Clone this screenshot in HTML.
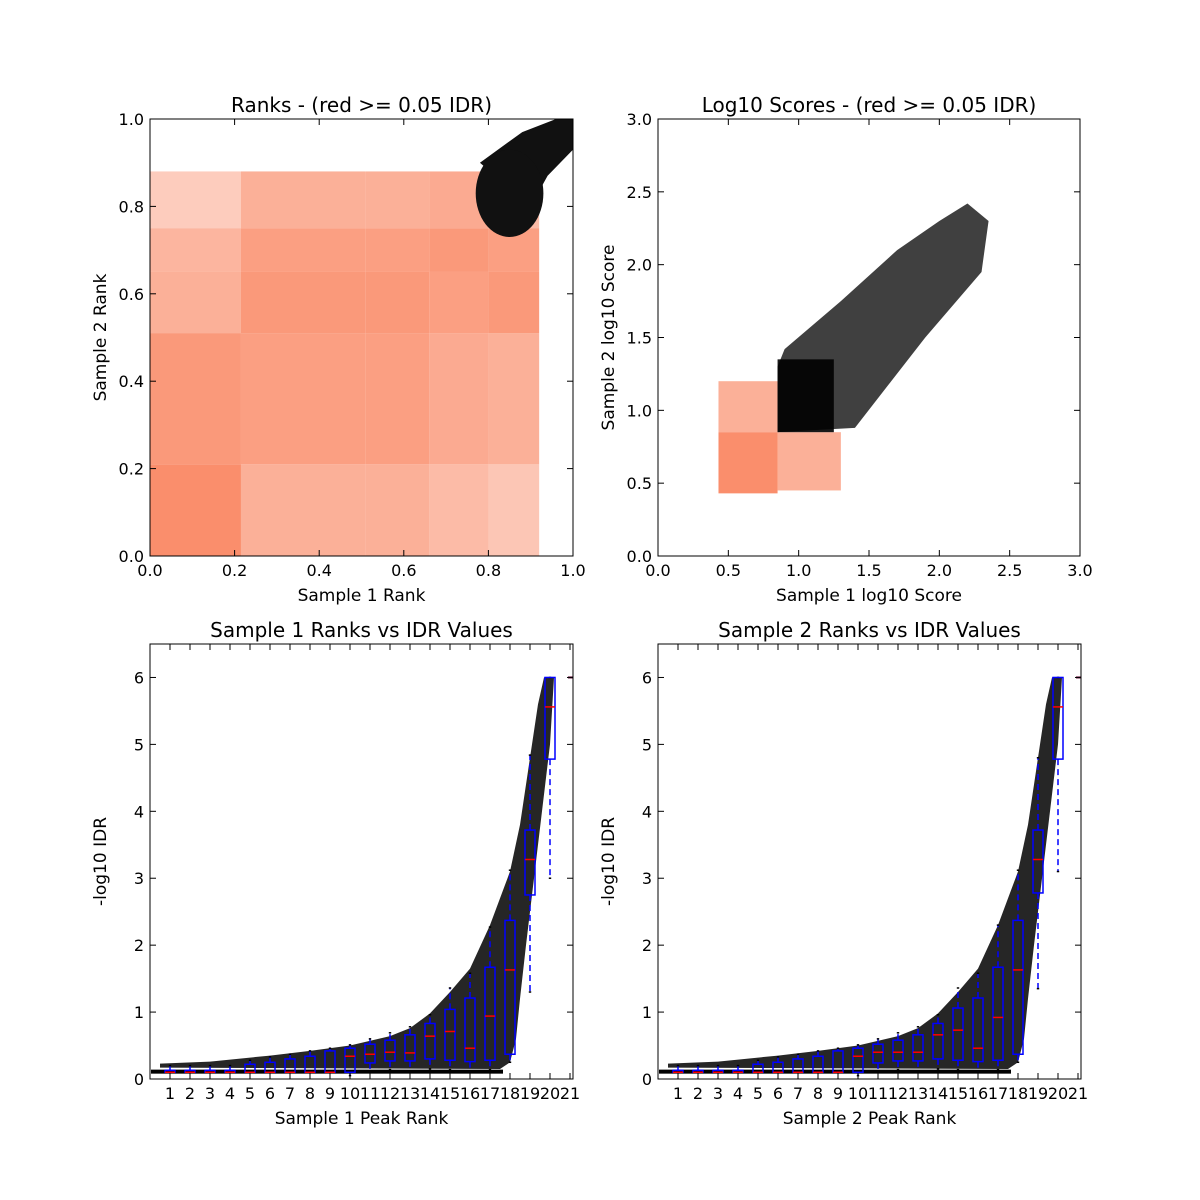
<!DOCTYPE html>
<html><head><meta charset="utf-8">
<style>
html,body{margin:0;padding:0;background:#fff;}
svg{display:block;font-family:"DejaVu Sans","Liberation Sans",sans-serif;}
</style></head>
<body>
<svg id="fig" width="1200" height="1200" viewBox="0 0 1200 1200" xmlns="http://www.w3.org/2000/svg"></svg>
<script>
// ---------- data ----------
const rankColEdges = [0, 0.215, 0.51, 0.66, 0.8, 0.92];
const rankRowEdges = [0, 0.21, 0.51, 0.65, 0.75, 0.88];
const rankDensity = [
  [1.0, 0.7, 0.7, 0.6, 0.5],
  [0.9, 0.85, 0.85, 0.75, 0.7],
  [0.7, 0.9, 0.9, 0.85, 0.9],
  [0.65, 0.85, 0.85, 0.9, 0.85],
  [0.45, 0.7, 0.7, 0.75, 0.6]
];
const rankBlobCenter = [0.85, 0.83];
const rankBlobRadius = [0.08, 0.1];
const rankTailX = [0.78, 0.88, 0.96, 1.0, 1.0, 0.94, 0.9];
const rankTailY = [0.9, 0.97, 1.0, 1.0, 0.93, 0.87, 0.8];
const redCoreBox = [0.43, 0.43, 0.85, 0.85];
const redExtBoxes = [[0.43, 0.85, 0.85, 1.2], [0.85, 0.45, 1.3, 0.85]];
const blackCoreBox = [0.85, 0.85, 1.25, 1.35];
const blackBandX = [0.85, 0.9, 1.3, 1.7, 2.0, 2.2, 2.35, 2.3, 1.9, 1.4];
const blackBandY = [1.3, 1.42, 1.75, 2.1, 2.3, 2.42, 2.3, 1.95, 1.5, 0.88];
const bins = [1,2,3,4,5,6,7,8,9,10,11,12,13,14,15,16,17,18,19,20];
const s1Low  = [0.1,0.1,0.1,0.1,0.1,0.1,0.1,0.1,0.1,0.05,0.12,0.14,0.12,0.15,0.14,0.1,0.14,0.25,1.3,3.0];
const s1Q1   = [0.1,0.1,0.1,0.1,0.1,0.1,0.1,0.1,0.1,0.1,0.24,0.27,0.27,0.3,0.28,0.26,0.28,0.37,2.75,4.78];
const s1Med  = [0.1,0.1,0.1,0.1,0.1,0.1,0.1,0.1,0.1,0.34,0.37,0.4,0.39,0.64,0.71,0.46,0.94,1.63,3.28,5.56];
const s1Q3   = [0.13,0.13,0.13,0.13,0.22,0.25,0.3,0.34,0.42,0.46,0.52,0.58,0.66,0.83,1.04,1.21,1.67,2.37,3.72,6.0];
const s1High = [0.2,0.2,0.2,0.2,0.28,0.33,0.37,0.42,0.46,0.51,0.6,0.69,0.78,0.96,1.36,1.58,2.27,3.12,4.84,6.0];
const s2Low  = [0.1,0.1,0.1,0.1,0.1,0.1,0.1,0.1,0.1,0.05,0.12,0.14,0.12,0.15,0.14,0.1,0.14,0.25,1.35,3.1];
const s2Q1   = [0.1,0.1,0.1,0.1,0.1,0.1,0.1,0.1,0.1,0.1,0.24,0.27,0.27,0.3,0.28,0.26,0.28,0.37,2.78,4.78];
const s2Med  = [0.1,0.1,0.1,0.1,0.1,0.1,0.1,0.1,0.1,0.34,0.4,0.4,0.4,0.66,0.73,0.46,0.92,1.63,3.28,5.56];
const s2Q3   = [0.13,0.13,0.13,0.13,0.22,0.25,0.3,0.34,0.42,0.46,0.52,0.58,0.66,0.83,1.06,1.21,1.67,2.37,3.72,6.0];
const s2High = [0.2,0.2,0.2,0.2,0.28,0.33,0.37,0.42,0.46,0.51,0.6,0.69,0.78,0.96,1.36,1.58,2.3,3.12,4.8,6.0];
const envX = [0.5, 3, 6, 8, 10, 12, 13, 14, 15, 16, 17, 18, 18.5, 19, 19.4, 19.7, 20.2];
const envY = [0.23, 0.26, 0.35, 0.42, 0.5, 0.64, 0.76, 0.98, 1.3, 1.65, 2.3, 3.1, 3.8, 4.8, 5.6, 6.0, 6.0];
const envRX = [20.2, 20.0, 19.6, 19.2, 18.8, 18.5, 18.3, 18.0];
const envRY = [6.0, 5.0, 4.0, 3.0, 2.0, 1.2, 0.6, 0.25];
const xTicksTop = [0, 0.2, 0.4, 0.6, 0.8, 1.0];
const yTicksTop = [0, 0.2, 0.4, 0.6, 0.8, 1.0];
const scoreTicks = [0, 0.5, 1.0, 1.5, 2.0, 2.5, 3.0];
const idrTicks = [0,1,2,3,4,5,6];
const rankTicks = [1,2,3,4,5,6,7,8,9,10,11,12,13,14,15,16,17,18,19,20,21];

// ---------- helpers ----------
const NS = "http://www.w3.org/2000/svg";
const fig = document.getElementById('fig');
function mk(tag, attrs, parent) {
  const e = document.createElementNS(NS, tag);
  for (const k in attrs) e.setAttribute(k, attrs[k]);
  (parent || fig).appendChild(e);
  return e;
}
function lin(d0, d1, r0, r1) { return v => r0 + (v - d0) / (d1 - d0) * (r1 - r0); }
const SALMON = "#fa8e6c";

function axesFrame(g, L, T, R, B, xs, ys, xt, yt, xfmt, yfmt, title, xl, yl) {
  const frame = mk('rect', {x:L, y:T, width:R-L, height:B-T, fill:'none', stroke:'#000', 'stroke-width':1}, g);
  
  
  xt.forEach(v => {
    const x = xs(v);
    mk('line', {x1:x, x2:x, y1:B, y2:B-6, stroke:'#000'}, g);
    mk('line', {x1:x, x2:x, y1:T, y2:T+6, stroke:'#000'}, g);
    const t = mk('text', {x:x, y:B+20, 'text-anchor':'middle', 'font-size':16}, g);
    t.textContent = xfmt(v);
    
    
  });
  yt.forEach(v => {
    const y = ys(v);
    mk('line', {x1:L, x2:L+6, y1:y, y2:y, stroke:'#000'}, g);
    mk('line', {x1:R, x2:R-6, y1:y, y2:y, stroke:'#000'}, g);
    const t = mk('text', {x:L-6, y:y+6, 'text-anchor':'end', 'font-size':16}, g);
    t.textContent = yfmt(v);
    
    
  });
  const ti = mk('text', {x:(L+R)/2, y:T-7, 'text-anchor':'middle', 'font-size':20}, g);
  ti.textContent = title;
  
  
  const xa = mk('text', {x:(L+R)/2, y:B+45, 'text-anchor':'middle', 'font-size':17}, g);
  xa.textContent = xl;
  
  
  const ya = mk('text', {x:0, y:0, 'text-anchor':'middle', 'font-size':17, transform:`translate(${L-44},${(T+B)/2}) rotate(-90)`}, g);
  ya.textContent = yl;
  
  
}

// ---------- top-left: ranks ----------
(function(){
  const L=150,T=119,R=573,B=556;
  const xs = lin(0,1,L,R), ys = lin(0,1,B,T);
  const g = mk('g', {});
  
  
  for (let r = 0; r < rankDensity.length; r++) {
    for (let c = 0; c < rankDensity[r].length; c++) {
      const x0 = xs(rankColEdges[c]), x1 = xs(rankColEdges[c+1]);
      const y0 = ys(rankRowEdges[r+1]), y1 = ys(rankRowEdges[r]);
      const b = mk('rect', {x:x0, y:y0, width:x1-x0, height:y1-y0, fill:SALMON, 'fill-opacity':rankDensity[r][c]}, g);
      
      
    }
  }
  const tail = mk('polygon', {points: rankTailX.map((v,i)=>xs(v)+','+ys(rankTailY[i])).join(' '), fill:'#111'}, g);
  
  
  const blob = mk('ellipse', {cx:xs(rankBlobCenter[0]), cy:ys(rankBlobCenter[1]), rx:xs(rankBlobRadius[0])-xs(0), ry:ys(0)-ys(rankBlobRadius[1]), fill:'#111'}, g);
  
  
  axesFrame(g, L,T,R,B, xs, ys, xTicksTop, yTicksTop, v=>v.toFixed(1), v=>v.toFixed(1),
    'Ranks - (red >= 0.05 IDR)', 'Sample 1 Rank', 'Sample 2 Rank');
})();

// ---------- top-right: log10 scores ----------
(function(){
  const L=658,T=119,R=1080,B=556;
  const xs = lin(0,3,L,R), ys = lin(0,3,B,T);
  const g = mk('g', {});
  
  
  redExtBoxes.forEach(bx => {
    const e = mk('rect', {x:xs(bx[0]), y:ys(bx[3]), width:xs(bx[2])-xs(bx[0]), height:ys(bx[1])-ys(bx[3]), fill:SALMON, 'fill-opacity':0.7}, g);
    
    
  });
  const rc = mk('rect', {x:xs(redCoreBox[0]), y:ys(redCoreBox[3]), width:xs(redCoreBox[2])-xs(redCoreBox[0]), height:ys(redCoreBox[1])-ys(redCoreBox[3]), fill:SALMON}, g);
  
  
  const band = mk('polygon', {points: blackBandX.map((v,i)=>xs(v)+','+ys(blackBandY[i])).join(' ') + ' ' + xs(blackCoreBox[0])+','+ys(blackCoreBox[1]), fill:'#000', 'fill-opacity':0.75}, g);
  
  
  const bc = mk('rect', {x:xs(blackCoreBox[0]), y:ys(blackCoreBox[3]), width:xs(blackCoreBox[2])-xs(blackCoreBox[0]), height:ys(blackCoreBox[1])-ys(blackCoreBox[3]), fill:'#000', 'fill-opacity':0.9}, g);
  
  
  axesFrame(g, L,T,R,B, xs, ys, scoreTicks, scoreTicks, v=>v.toFixed(1), v=>v.toFixed(1),
    'Log10 Scores - (red >= 0.05 IDR)', 'Sample 1 log10 Score', 'Sample 2 log10 Score');
})();

// ---------- bottom: IDR boxplots ----------
function idrPanel(L, title, xl, low, q1, med, q3, high, name) {
  const T=644, R=L+423, B=1079;
  const xs = lin(0, 21.15, L, R), ys = lin(0, 6.5, B, T);
  const g = mk('g', {});
  
  
  let pts = envX.map((v,i)=>xs(v)+','+ys(envY[i]));
  pts = pts.concat(envRX.map((v,i)=>xs(v)+','+ys(envRY[i])));
  pts.push(xs(17.5)+','+ys(0.15), xs(0.5)+','+ys(0.17));
  const cloud = mk('polygon', {points: pts.join(' '), fill:'#000', 'fill-opacity':0.85}, g);
  
  
  const base = mk('rect', {x:L+1, y:ys(0.14), width:xs(17.6)-L, height:ys(0.08)-ys(0.14), fill:'#000'}, g);
  
  
  const hw = xs(0.25) - xs(0), cw = xs(0.12) - xs(0);
  bins.forEach((b, i) => {
    const x = xs(b);
    const bg = mk('g', {}, g);
    
    
    mk('line', {x1:x, x2:x, y1:ys(q3[i]), y2:ys(high[i]), stroke:'#00f', 'stroke-width':1.5, 'stroke-dasharray':'6,4'}, bg);
    mk('line', {x1:x, x2:x, y1:ys(q1[i]), y2:ys(low[i]), stroke:'#00f', 'stroke-width':1.5, 'stroke-dasharray':'6,4'}, bg);
    mk('line', {x1:x-cw/2, x2:x+cw/2, y1:ys(high[i]), y2:ys(high[i]), stroke:'#000', 'stroke-width':1.5}, bg);
    mk('line', {x1:x-cw/2, x2:x+cw/2, y1:ys(low[i]), y2:ys(low[i]), stroke:'#000', 'stroke-width':1.5}, bg);
    mk('rect', {x:x-hw, y:ys(q3[i]), width:2*hw, height:Math.max(1, ys(q1[i])-ys(q3[i])), fill:'none', stroke:'#00f', 'stroke-width':1.5}, bg);
    mk('line', {x1:x-hw, x2:x+hw, y1:ys(med[i]), y2:ys(med[i]), stroke:'#f00', 'stroke-width':1.5}, bg);
  });
  const fl = mk('line', {x1:xs(20.9), x2:R, y1:ys(6), y2:ys(6), stroke:'#603', 'stroke-width':2}, g);
  
  
  axesFrame(g, L,T,R,B, xs, ys, rankTicks, idrTicks, v=>String(v), v=>String(v), title, xl, '-log10 IDR');
}
idrPanel(150, 'Sample 1 Ranks vs IDR Values', 'Sample 1 Peak Rank', s1Low, s1Q1, s1Med, s1Q3, s1High, 'sample1-idr-boxplot');
idrPanel(658, 'Sample 2 Ranks vs IDR Values', 'Sample 2 Peak Rank', s2Low, s2Q1, s2Med, s2Q3, s2High, 'sample2-idr-boxplot');
</script>
</body></html>
